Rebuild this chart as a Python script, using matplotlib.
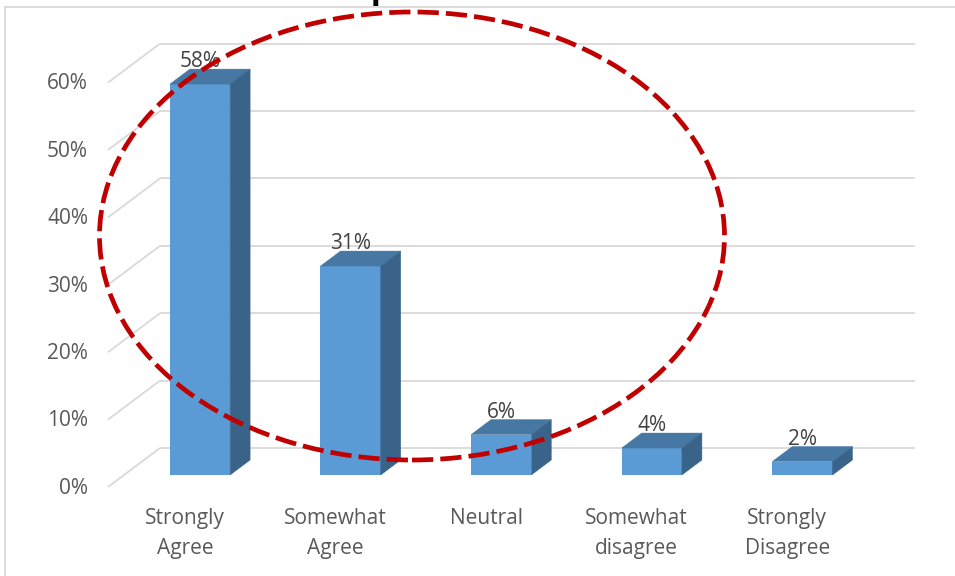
import matplotlib
matplotlib.use("Agg")
import matplotlib.pyplot as plt
from matplotlib.patches import Polygon, Ellipse
from matplotlib.lines import Line2D

# ---- data ----
categories = ["Strongly\nAgree", "Somewhat\nAgree", "Neutral", "Somewhat\ndisagree", "Strongly\nDisagree"]
values = [58, 31, 6, 4, 2]
value_labels = ["58%", "31%", "6%", "4%", "2%"]
tick_values = [0, 10, 20, 30, 40, 50, 60]
tick_labels = ["0%", "10%", "20%", "30%", "40%", "50%", "60%"]

# ---- layout (pixel-derived scale) ----
W, H = 955, 576
XPX0, XSC = 200.0, 150.6     # pixel of category 0, pixels per category
YPX0, YSC = 475.0, 6.74      # pixel of value 0 (bar front), pixels per percent

fig = plt.figure(figsize=(W / 100, H / 100), dpi=100)
ax = fig.add_axes([0, 0, 1, 1])
ax.set_xlim((0 - XPX0) / XSC, (W - XPX0) / XSC)
ax.set_ylim((YPX0 - H) / YSC, YPX0 / YSC)
ax.axis("off")

FONT = "Open Sans"
FS = 15
grid_c = "#D9D9D9"
front_c = "#5B9BD5"
top_c = "#4777A3"
side_c = "#3A6389"

half_w = 0.2
bdx, bdy = 20 / XSC, 15 / YSC          # bar depth offset
wall_dx, wall_dy = 36 / XSC, 27 / YSC  # back wall offset from bar front plane
front_left_x, front_dy = (108 - XPX0) / XSC, -12 / YSC
back_left_x = (160 - XPX0) / XSC
back_right_x = (915 - XPX0) / XSC

# gridlines: left wall diagonals + back wall horizontals
for t in tick_values:
    ax.plot([front_left_x, back_left_x], [t + front_dy, t + wall_dy], color=grid_c, lw=1.3, zorder=1,
            solid_capstyle="butt")
    ax.plot([back_left_x, back_right_x], [t + wall_dy, t + wall_dy], color=grid_c, lw=1.3, zorder=1,
            solid_capstyle="butt")

# tick labels
for t, lab in zip(tick_values, tick_labels):
    ax.text((88 - XPX0) / XSC, t + front_dy - 0.2, lab, ha="right", va="center", fontsize=FS,
            color="#595959", family=FONT)

# 3D bars
for i, v in enumerate(values):
    x0, x1 = i - half_w, i + half_w
    ax.bar(i, v, width=2 * half_w, color=front_c, zorder=3, linewidth=0)
    top = Polygon([(x0, v), (x1, v), (x1 + bdx, v + bdy), (x0 + bdx, v + bdy)], closed=True,
                  facecolor=top_c, edgecolor=top_c, lw=0.3, zorder=3)
    side = Polygon([(x1, 0), (x1, v), (x1 + bdx, v + bdy), (x1 + bdx, bdy)], closed=True,
                   facecolor=side_c, edgecolor=side_c, lw=0.3, zorder=3)
    ax.add_patch(top)
    ax.add_patch(side)
    ax.text(i, v + 3.3, value_labels[i], ha="center", va="center", fontsize=FS,
            color="#404040", family=FONT, zorder=4)

# category labels
for i, c in enumerate(categories):
    ax.text(i - 0.1, (YPX0 - 508) / YSC, c, ha="center", va="top", fontsize=FS,
            color="#595959", family=FONT, linespacing=1.55)

# red dashed ellipse overlay
ell = Ellipse(((412 - XPX0) / XSC, (YPX0 - 236) / YSC), 625 / XSC, 448 / YSC,
              facecolor="none", edgecolor="#C00000", lw=3.4, linestyle=(0, (4.5, 1.5)),
              zorder=10, clip_on=False)
ax.add_patch(ell)

# chart border (top and left visible)
fig.add_artist(Line2D([4.5 / W, 4.5 / W], [0, 1 - 6.5 / H], transform=fig.transFigure, color=grid_c, lw=1.3))
fig.add_artist(Line2D([4.5 / W, 1], [1 - 6.5 / H, 1 - 6.5 / H], transform=fig.transFigure, color=grid_c, lw=1.3))

# clipped title fragment (descender visible at top edge)
fig.text(370.5 / W, 1.0, "p", ha="left", va="baseline", fontsize=20, fontweight="bold", color="black")

fig.savefig("out.png", dpi=100)
